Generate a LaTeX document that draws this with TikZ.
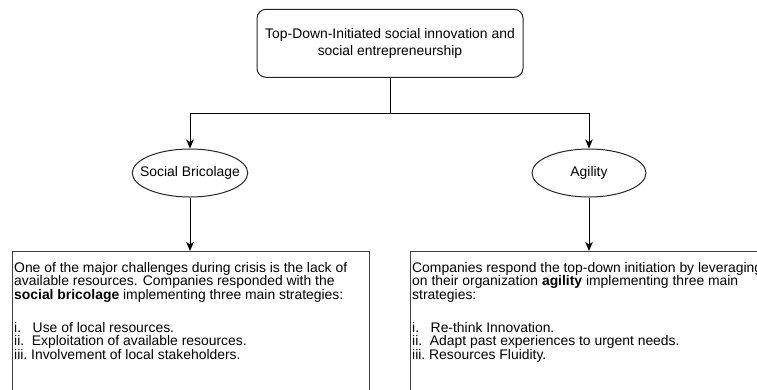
\documentclass[tikz,border=0pt]{standalone}
\usepackage{fontspec}
\setmainfont{Liberation Sans}
\usetikzlibrary{shapes.geometric,arrows.meta}
\begin{document}
\begin{tikzpicture}[x=1pt,y=1pt,
  conn/.style={draw=black, line width=1pt},
  arr/.style={conn, -{Stealth[length=9pt,width=7.5pt,inset=2.5pt]}},
  topbox/.style={draw=black!85, line width=1pt, rounded corners=9pt, minimum width=266pt, minimum height=68pt, inner sep=0pt, align=center, font=\fontsize{13.9}{17}\selectfont},
  oval/.style={ellipse, draw=black!85, line width=1pt, minimum width=114pt, minimum height=48pt, inner xsep=-9pt, inner ysep=0pt, font=\fontsize{13.9}{16}\selectfont},
  panel/.style={draw=black!75, line width=1pt, anchor=north west, inner sep=0pt},
  paneltext/.style={anchor=north west, align=left, inner sep=0pt, font=\fontsize{13.9}{13.5}\selectfont}
]
\useasboundingbox (0,0) rectangle (757,-389);
\clip (0,0) rectangle (757,-389);
\node[topbox] (top) at (390,-43.3) {Top-Down-Initiated social innovation and\\social entrepreneurship};
\node[oval] (sb) at (190,-173) {Social Bricolage};
\node[oval] (ag) at (589,-173) {Agility};
\node[panel, minimum width=357pt, minimum height=170pt] (lp) at (12,-251) {};
\node[panel, minimum width=380pt, minimum height=170pt] (rp) at (410,-251) {};
\node[paneltext] (lt) at (14,-261.8) {One of the major challenges during crisis is the lack of\\
available resources. Companies responded with the\\
\textbf{social bricolage} implementing three main strategies:\\[19.8pt]
i.\ \ \ Use of local resources.\\
ii.\ \ Exploitation of available resources.\\
iii.\ Involvement of local stakeholders.};
\node[paneltext] (rt) at (412,-261.8) {Companies respond the top-down initiation by leveraging\\
on their organization \textbf{agility} implementing three main\\
strategies:\\[19.8pt]
i.\ \ \ Re-think Innovation.\\
ii.\ \ Adapt past experiences to urgent needs.\\
iii.\ Resources Fluidity.};
\coordinate (split) at (390,-113);
\draw[conn] (top.south) -- (split);
\draw[arr] (split) -| (sb.north);
\draw[arr] (split) -| (ag.north);
\draw[arr] (sb.south) -- (lp.north -| sb.south);
\draw[arr] (ag.south) -- (rp.north -| ag.south);
\end{tikzpicture}
\end{document}
